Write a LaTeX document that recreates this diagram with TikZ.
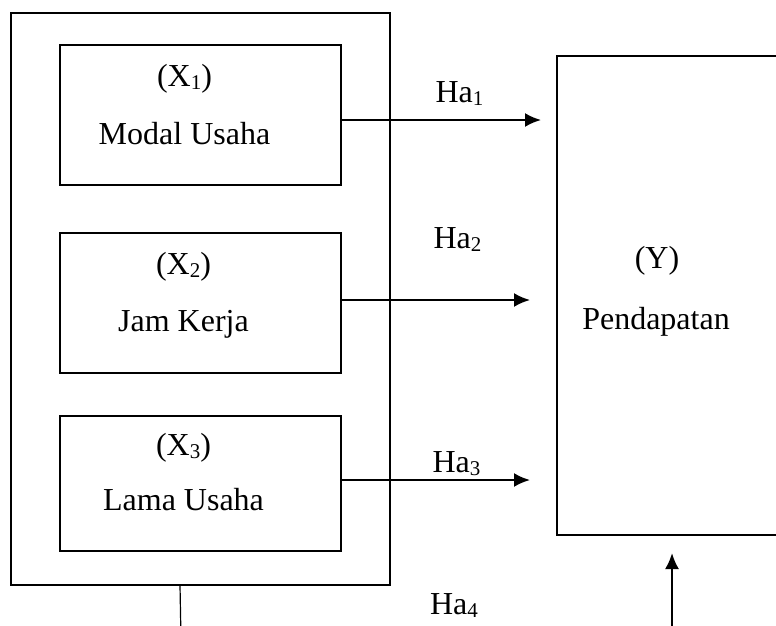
\documentclass[tikz,border=0pt]{standalone}
\usepackage{fontspec}
\setmainfont{Liberation Serif}
\usetikzlibrary{arrows.meta}
\newcommand{\lowidx}[1]{\raisebox{-0.12em}{\fontsize{21}{21}\selectfont #1}}
\begin{document}
\begin{tikzpicture}[x=1pt,y=-1pt,
  box/.style={draw,line width=2pt,inner sep=0pt},
  lbl/.style={anchor=base,inner sep=0pt,font=\fontsize{32}{38}\selectfont},
  arr/.style={line width=2.2pt,-{Latex[length=16pt,width=14pt]}}]
\useasboundingbox (0,0) rectangle (776,626);
\clip (0,0) rectangle (776,626);
\node[box,minimum width=379pt,minimum height=572pt] (outer) at (200.5,299) {};
\node[box,minimum width=281pt,minimum height=140pt] (b1) at (200.5,115) {};
\node[box,minimum width=281pt,minimum height=140pt] (b2) at (200.5,303) {};
\node[box,minimum width=281pt,minimum height=135pt] (b3) at (200.5,483.5) {};
\node[box,minimum width=243pt,minimum height=479pt] (ybox) at (678.5,295.5) {};
\node[lbl] (x1) at (184.5,86) {(X\lowidx{1})};
\node[lbl] (m1) at (184.5,144) {Modal Usaha};
\node[lbl] (x2) at (183.5,274) {(X\lowidx{2})};
\node[lbl] (m2) at (183.5,331) {Jam Kerja};
\node[lbl] (x3) at (183.5,455) {(X\lowidx{3})};
\node[lbl] (m3) at (183.5,510) {Lama Usaha};
\node[lbl] (yl) at (657,268) {(Y)};
\node[lbl] (pd) at (656,329) {Pendapatan};
\node[lbl] (h1) at (459.5,102) {Ha\lowidx{1}};
\node[lbl] (h2) at (457.5,248) {Ha\lowidx{2}};
\node[lbl] (h3) at (456.5,472) {Ha\lowidx{3}};
\node[lbl] (h4) at (454,614) {Ha\lowidx{4}};
\coordinate (e1) at (541,120);
\coordinate (e2) at (530,300);
\coordinate (e3) at (530,480);
\draw[arr] (b1.east |- e1) -- (e1);
\draw[arr] (b2.east |- e2) -- (e2);
\draw[arr] (b3.east |- e3) -- (e3);
\coordinate (e4s) at (672,640);
\coordinate (e4) at (672,553);
\draw[arr] (e4s) -- (e4);
\coordinate (l4top) at (180,585);
\coordinate (l4) at (181,640);
\draw[line width=1.2pt] (l4top) -- (l4);
\end{tikzpicture}
\end{document}
